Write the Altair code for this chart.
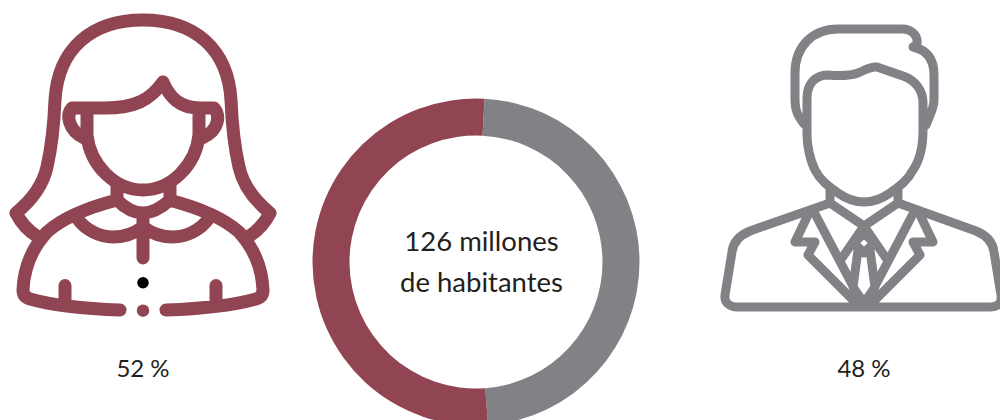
import altair as alt
import pandas as pd

# Population split
sexes = ["Hombres", "Mujeres"]
shares = [48, 52]
colors = ["#808285", "#914553"]
total_lines = ["126 millones", "de habitantes"]

MAROON = "#914553"
GRAY = "#808285"
INK = "#231f20"
FONT = "Lato"

# Outline icons, as pixel paths on the 1000x420 canvas
WOMAN = (
    # hair
    "M38 237C30 232 22 225 16 213C32 200 43 185 47 167C52 145 54 125 55 100"
    "C58 50 90 20 143 20C196 20 228 50 231 100C232 125 234 145 239 167"
    "C243 185 254 200 270 213C264 225 256 232 248 237"
    # fringe and ears
    "M84 138C68 130 66 115 72 108H105C135 108 150 100 163 82"
    "C170 98 180 108 200 108H214C220 115 220 130 202 138"
    # face
    "M87 108V135C90 165 115 190 143 190C171 190 196 165 199 135V108"
    # neck and collar
    "M117 183V200C125 208 135 213 143 213C151 213 161 208 170 200V183"
    "M143 213V258"
    "M77 218C85 230 100 237 113 237C125 237 135 233 143 227"
    "C151 233 161 237 173 237C186 237 201 230 209 218"
    # shoulders and hem
    "M117 200C90 207 65 216 47 232C35 245 24 265 23 290Q23 297 30 299"
    "C55 306 90 309 120 310"
    "M169 200C196 207 221 216 239 232C251 245 262 265 263 290Q263 297 256 299"
    "C231 306 196 309 166 310"
    # sleeves
    "M65 285.5V306M216 285.5V306"
)
# the small bead at the hem, a zero-length round-capped stroke
WOMAN_BEAD = "M143 310.7H143.01"
MAN = (
    # hair
    "M804 124C796 114 795 108 795 98V73C795 47 812 29 838 29H902"
    "C912 29 918 36 917 43C917 45 914 46 913 47C928 50 934 60 934 75V100"
    "C934 108 930 115 926 125"
    # face
    "M807 135V98C807 84 815 75 828 75C840 76 850 76 858 73C866 70 870 66 877 67"
    "L903 76C915 80 923 90 923 103V130C923 145 920 160 913 170"
    "C908 180 900 186 890 193C880 200 872 202 864 202C856 202 848 200 838 193"
    "C828 186 820 180 815 170C810 160 807 145 807 135"
    # neck and shoulders
    "M830 190V203L750 231C738 236 733 243 732 252L725 295C724 303 730 307 737 307"
    "H991C998 307 1002 303 1001 295L994 252C993 243 988 236 976 231L898 203V190"
    # shirt collar
    "M830 203L864 226L898 203"
    "M864 226L842 258M864 226L886 258"
    # lapels
    "M814 212L855 290M914 212L873 290"
    "M807 217L795 242H815L808 255L855 302M921 217L933 242H913L920 255L873 302"
    # tie
    "M864 233L874 243L864 253L854 243Z"
    "M858 250L853 287L864 303L875 287L870 250"
)

shares_df = pd.DataFrame({"sexo": sexes, "pct": shares, "orden": [0, 1]})

ring = (
    alt.Chart(shares_df)
    .mark_arc(radius=163.5, radius2=126.5)
    .encode(
        theta=alt.Theta(
            "pct:Q",
            stack=True,
            scale=alt.Scale(domain=[0, 100], range=[0.052, 6.335]),
        ),
        order=alt.Order("orden:Q"),
        color=alt.Color(
            "sexo:N", scale=alt.Scale(domain=sexes, range=colors), legend=None
        ),
        x=alt.value(476),
        y=alt.value(262),
    )
)


def icon(path, color, width):
    return (
        alt.Chart(pd.DataFrame({"k": [0]}))
        .mark_point(
            shape=path,
            size=4,
            filled=False,
            opacity=1,
            stroke=color,
            strokeWidth=width,
            strokeCap="round",
            strokeJoin="round",
        )
        .encode(x=alt.value(0), y=alt.value(0))
    )


def caption(text, x, y, size):
    return (
        alt.Chart(pd.DataFrame({"t": [text]}))
        .mark_text(
            font=FONT, fontSize=size, color=INK, align="center", baseline="alphabetic"
        )
        .encode(text="t:N", x=alt.value(x), y=alt.value(y))
    )


button = (
    alt.Chart(pd.DataFrame({"k": [0]}))
    .mark_point(shape="circle", size=132, filled=True, opacity=1, color="#000000")
    .encode(x=alt.value(143), y=alt.value(282.7))
)

chart = (
    alt.layer(
        ring,
        icon(WOMAN, MAROON, 13),
        icon(WOMAN_BEAD, MAROON, 12.5),
        icon(MAN, GRAY, 9),
        button,
        caption(total_lines[0], 481.5, 251, 27.5),
        caption(total_lines[1], 481.5, 292, 27.5),
        caption(f"{shares[1]} %", 143, 377, 24),
        caption(f"{shares[0]} %", 864, 377, 24),
    )
    .properties(
        width=1000,
        height=420,
        padding=0,
        autosize=alt.AutoSizeParams(type="none"),
        background="#ffffff",
    )
    .configure_view(stroke=None)
)

chart.save("out.html", embed_options={"renderer": "svg", "actions": False})
